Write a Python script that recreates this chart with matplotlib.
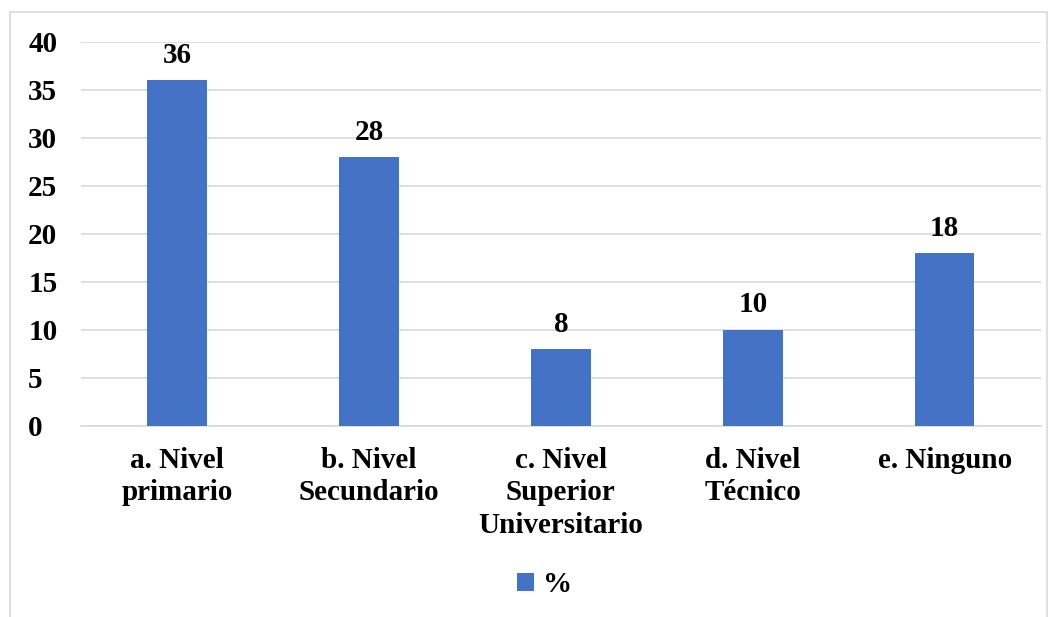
import matplotlib.pyplot as plt
from matplotlib.patches import Rectangle

# data
categories = ['a. Nivel\nprimario', 'b. Nivel\nSecundario', 'c. Nivel\nSuperior\nUniversitario',
              'd. Nivel\nTécnico', 'e. Ninguno']
values = [36, 28, 8, 10, 18]
y_ticks = [0, 5, 10, 15, 20, 25, 30, 35, 40]
series_name = '%'

bar_color = '#4472C4'
grid_color = '#D9D9D9'

plt.rcParams['font.family'] = ['Liberation Serif', 'DejaVu Serif']
plt.rcParams['font.weight'] = 'bold'

fig = plt.figure(figsize=(10.57, 6.17), dpi=100)
ax = fig.add_axes([0.0766, 0.3096, 0.908, 0.6224])

x = range(len(categories))
bars = ax.bar(x, values, width=0.31, color=bar_color, label=series_name, zorder=3)

# value labels above bars
for bar, v in zip(bars, values):
    ax.text(bar.get_x() + bar.get_width() / 2, v + 1.2, f'{v}',
            ha='center', va='bottom', fontsize=21, fontweight='bold')

ax.set_xlim(-0.5, len(categories) - 0.5)
ax.set_ylim(0, 40)
ax.set_yticks(y_ticks)
ax.set_yticklabels([str(t) for t in y_ticks], fontsize=21, fontweight='bold')
ax.set_xticks(list(x))
ax.set_xticklabels(categories, fontsize=21, fontweight='bold', linespacing=1.27)

ax.grid(True, axis='y', color=grid_color, linewidth=1.2, zorder=0)
for side in ['top', 'right', 'left']:
    ax.spines[side].set_visible(False)
ax.spines['bottom'].set_color(grid_color)
ax.spines['bottom'].set_linewidth(1.2)
ax.tick_params(axis='both', length=0)
ax.tick_params(axis='y', pad=38)
ax.tick_params(axis='x', pad=15)
for lbl in ax.get_yticklabels():
    lbl.set_horizontalalignment('left')

leg = fig.legend(loc='center', bbox_to_anchor=(0.515, 0.052), frameon=False,
                 prop={'size': 21, 'weight': 'bold'}, handlelength=0.6, handleheight=0.6,
                 handletextpad=0.3)

# light chart border like the office-style frame
fig.patches.append(Rectangle((10 / 1057, -0.05), 1037 / 1057, 1 - 12 / 617 + 0.05,
                             transform=fig.transFigure, fill=False,
                             edgecolor=grid_color, linewidth=1.2))

fig.savefig('out.png', dpi=100)
